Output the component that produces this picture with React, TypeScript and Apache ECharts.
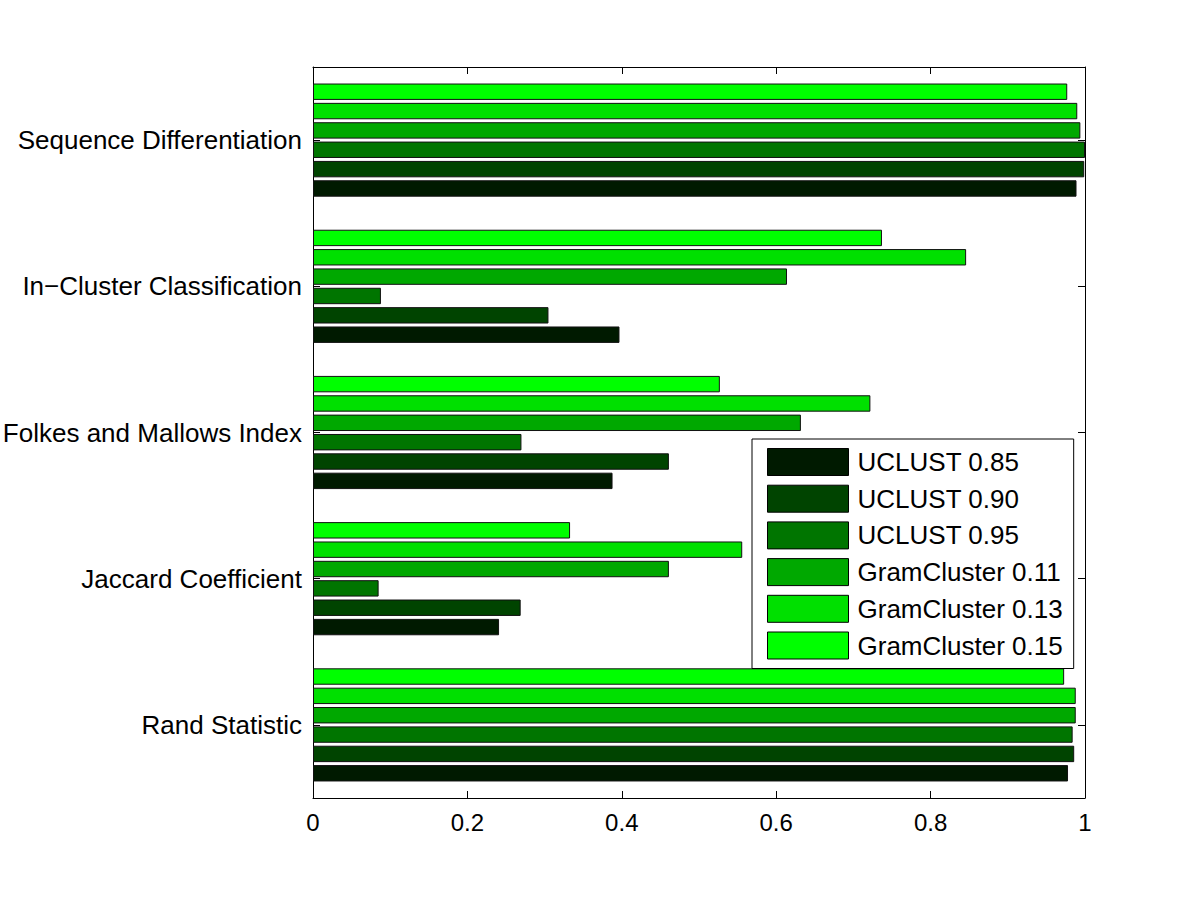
import React, { useEffect, useRef } from "react";
import * as echarts from "echarts";

const categories = [
  "Rand Statistic",
  "Jaccard Coefficient",
  "Folkes and Mallows Index",
  "In\u2212Cluster Classification",
  "Sequence Differentiation",
];

const seriesNames = [
  "UCLUST 0.85",
  "UCLUST 0.90",
  "UCLUST 0.95",
  "GramCluster 0.11",
  "GramCluster 0.13",
  "GramCluster 0.15",
];

const seriesColors = ["#001a00", "#004400", "#007500", "#00a800", "#00e000", "#00ff00"];

// values per series, in category order (Rand, Jaccard, Folkes, In-Cluster, Sequence)
const uclust085 = [0.978, 0.241, 0.388, 0.397, 0.989];
const uclust090 = [0.986, 0.269, 0.461, 0.305, 0.999];
const uclust095 = [0.984, 0.085, 0.27, 0.088, 1.0];
const gram011 = [0.988, 0.461, 0.632, 0.614, 0.994];
const gram013 = [0.988, 0.556, 0.722, 0.846, 0.99];
const gram015 = [0.973, 0.333, 0.527, 0.737, 0.977];

const seriesValues = [uclust085, uclust090, uclust095, gram011, gram013, gram015];

const xTicks = { min: 0, max: 1, interval: 0.2 };

export default function App() {
  const ref = useRef<HTMLDivElement>(null);
  useEffect(() => {
    if (!ref.current) return;
    const chart = echarts.init(ref.current, null, { renderer: "svg" });
    const font = "'Liberation Sans', Arial, Helvetica, sans-serif";
    // ECharts stacks horizontal bar groups top-down in series order, so feed the
    // series in reverse to put UCLUST 0.85 at the bottom of each group.
    const order = seriesNames.map((_, i) => seriesNames.length - 1 - i);
    const line = { show: true, onZero: false, lineStyle: { color: "#000", width: 1 } };
    const tick = { show: true, inside: true, length: 7, lineStyle: { color: "#000", width: 1 } };
    chart.setOption({
      animation: false,
      backgroundColor: "#ffffff",
      grid: { left: 313, right: 115, top: 67, bottom: 102, containLabel: false, outerBoundsMode: "none" },
      legend: {
        data: seriesNames,
        orient: "vertical",
        left: 752,
        top: 439,
        padding: [9, 11, 9, 15],
        itemWidth: 81,
        itemHeight: 27,
        itemGap: 8.7,
        icon: "rect",
        borderColor: "#000",
        borderWidth: 1,
        backgroundColor: "#fff",
        itemStyle: { borderColor: "#000", borderWidth: 1 },
        textStyle: { fontFamily: font, fontSize: 26, color: "#000", padding: [0, 0, 0, 4] },
      },
      xAxis: [
        {
          type: "value",
          position: "bottom",
          min: xTicks.min,
          max: xTicks.max,
          interval: xTicks.interval,
          splitLine: { show: false },
          axisLine: line,
          axisTick: tick,
          axisLabel: {
            margin: 12,
            fontFamily: "'Liberation Sans Narrow', 'Liberation Sans', Arial, sans-serif",
            fontSize: 24,
            color: "#000",
          },
        },
        {
          type: "value",
          position: "top",
          min: xTicks.min,
          max: xTicks.max,
          interval: xTicks.interval,
          splitLine: { show: false },
          axisLine: line,
          axisTick: tick,
          axisLabel: { show: false },
        },
      ],
      yAxis: [
        {
          type: "category",
          position: "left",
          data: categories,
          axisLine: line,
          axisTick: { ...tick, alignWithLabel: true },
          axisLabel: { margin: 11, fontFamily: font, fontSize: 26, color: "#000" },
        },
        {
          type: "category",
          position: "right",
          data: categories,
          axisLine: line,
          axisTick: { ...tick, alignWithLabel: true },
          axisLabel: { show: false },
        },
      ],
      series: order.map((i) => ({
        name: seriesNames[i],
        type: "bar",
        xAxisIndex: 0,
        yAxisIndex: 0,
        data: seriesValues[i],
        barCategoryGap: "22.6%",
        barGap: "18%",
        itemStyle: { color: seriesColors[i], borderColor: "#111", borderWidth: 1 },
        emphasis: { disabled: true },
      })),
    });
    return () => chart.dispose();
  }, []);
  return (
    <div
      ref={ref}
      style={{ position: "fixed", left: 0, top: 0, width: 1200, height: 900, background: "#fff" }}
    />
  );
}
